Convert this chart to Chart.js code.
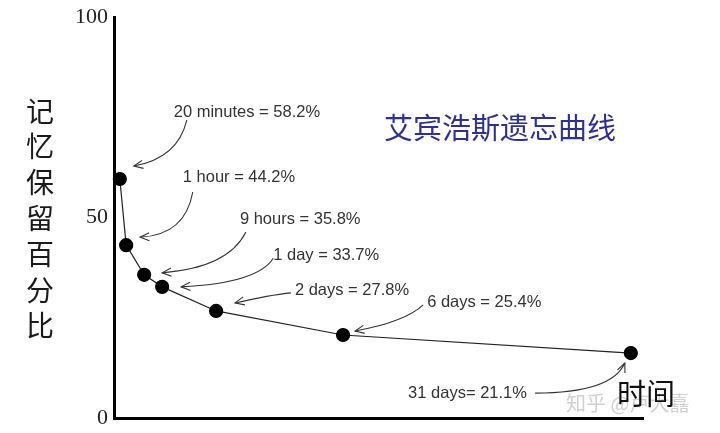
<!DOCTYPE html>
<html>
<head>
<meta charset="utf-8">
<script src="https://cdn.jsdelivr.net/npm/chart.js@4.4.1/dist/chart.umd.min.js"></script>
<style>
  html, body { margin: 0; padding: 0; background: #fff; }
  #wrap { width: 720px; height: 433px; }
</style>
</head>
<body>
<div id="wrap"><canvas id="curve"></canvas></div>
<script>
// ── Data ────────────────────────────────────────────────────
const intervals  = ['20 minutes', '1 hour', '9 hours', '1 day', '2 days', '6 days', '31 days'];
const noteLabels = ['20 minutes = 58.2%', '1 hour = 44.2%', '9 hours = 35.8%', '1 day = 33.7%',
                    '2 days = 27.8%', '6 days = 25.4%', '31 days= 21.1%'];
const timePos    = [1.1, 2.3, 5.7, 9.1, 19.3, 43.3, 97.7];   // horizontal position, 0..100
const retention  = [59.6, 43.1, 35.7, 32.7, 26.7, 20.7, 16.2];
const yTicks     = [0, 50, 100];

const chartTitle = '艾宾浩斯遗忘曲线';
const yTitle     = '记忆保留百分比';
const xTitle     = '时间';
const watermark  = '知乎 @卢大嚞';

// ── Note layout: label anchor in data units, arrow offsets in px ──
const noteAt   = [[11.3, 76.3], [13.0, 60.1], [23.8, 49.6], [30.1, 40.6], [34.2, 31.7], [59.2, 28.7], [55.6, 6.2]];
const tailOff  = [[13, 8], [10, 15], [6, 13], [0, 3], [-4, 2], [-4, 2], [127, 0]];
const headOff  = [[14, -13], [14, -8], [18, -2], [19, 0], [19, -8], [12, -4], [-6, 10]];
const ctrlOff  = [[44, -8], [45, -2], [66, -5], [77, -4], [35, -8], [50, -9], [-13, 30]];

// ── Helpers ─────────────────────────────────────────────────
function arrow(ctx, t, c, h) {
  ctx.beginPath();
  ctx.moveTo(t[0], t[1]);
  ctx.quadraticCurveTo(c[0], c[1], h[0], h[1]);
  ctx.stroke();
  const ang = Math.atan2(h[1] - c[1], h[0] - c[0]);
  const len = 10, spread = 0.42;
  ctx.beginPath();
  ctx.moveTo(h[0] - len * Math.cos(ang - spread), h[1] - len * Math.sin(ang - spread));
  ctx.lineTo(h[0], h[1]);
  ctx.lineTo(h[0] - len * Math.cos(ang + spread), h[1] - len * Math.sin(ang + spread));
  ctx.stroke();
}

const notesPlugin = {
  id: 'notes',
  afterDraw(chart) {
    const { ctx, chartArea: a, scales: { x, y } } = chart;
    ctx.save();

    // annotations with arrows
    ctx.font = '16.5px "Liberation Sans", Arial, sans-serif';
    ctx.textBaseline = 'middle';
    ctx.textAlign = 'left';
    ctx.fillStyle = '#333';
    ctx.strokeStyle = '#333';
    ctx.lineWidth = 1.1;
    noteLabels.forEach((txt, i) => {
      const lx = x.getPixelForValue(noteAt[i][0]);
      const ly = y.getPixelForValue(noteAt[i][1]);
      const px = x.getPixelForValue(timePos[i]);
      const py = y.getPixelForValue(retention[i]);
      ctx.fillText(txt, lx, ly);
      const head = [px + headOff[i][0], py + headOff[i][1]];
      const tail = [lx + tailOff[i][0], ly + tailOff[i][1]];
      const ctrl = [head[0] + ctrlOff[i][0], head[1] + ctrlOff[i][1]];
      arrow(ctx, tail, ctrl, head);
    });

    // title
    ctx.font = '29px "Noto Sans CJK SC", sans-serif';
    ctx.fillStyle = '#2e3192';
    ctx.textAlign = 'center';
    ctx.fillText(chartTitle, a.left + 386, 128);

    // vertical y title
    ctx.font = '28px "Noto Sans CJK SC", sans-serif';
    ctx.fillStyle = '#1a1a1a';
    [...yTitle].forEach((ch, i) => ctx.fillText(ch, 40, 111 + i * 35.8));

    // watermark
    ctx.font = '20px "Noto Sans CJK SC", sans-serif';
    ctx.fillStyle = 'rgba(170,170,170,0.55)';
    ctx.textAlign = 'left';
    ctx.fillText(watermark, 566, 403);

    // x title
    ctx.font = '29px "Noto Sans CJK SC", sans-serif';
    ctx.fillStyle = '#111';
    ctx.fillText(xTitle, 617, 394);

    ctx.restore();
  }
};

// ── Chart ───────────────────────────────────────────────────
new Chart(document.getElementById('curve'), {
  type: 'scatter',
  data: {
    datasets: [{
      label: 'retention',
      data: timePos.map((t, i) => ({ x: t, y: retention[i], name: intervals[i] })),
      showLine: true,
      borderColor: '#222',
      borderWidth: 1.2,
      pointRadius: 6.5,
      pointBackgroundColor: '#000',
      pointBorderColor: '#000',
      pointHoverRadius: 6.5,
      clip: false
    }]
  },
  options: {
    responsive: true,
    maintainAspectRatio: false,
    animation: false,
    layout: { padding: { left: 0, right: 77, top: 17, bottom: 15 } },
    plugins: { legend: { display: false }, tooltip: { enabled: false } },
    scales: {
      x: {
        type: 'linear', min: 0, max: 100,
        grid: { display: false, drawTicks: false },
        border: { display: true, width: 3, color: '#000' },
        ticks: { display: false },
        afterFit: s => { s.height = 0; }
      },
      y: {
        min: 0, max: 100,
        afterBuildTicks: s => { s.ticks = yTicks.map(v => ({ value: v })); },
        grid: { display: false, drawTicks: false },
        border: { display: true, width: 3, color: '#000' },
        ticks: {
          padding: 6,
          color: '#222',
          font: { family: '"Liberation Serif", "Times New Roman", serif', size: 22 }
        },
        afterFit: s => { s.width = 114; s.paddingTop = 0; s.paddingBottom = 0; }
      }
    }
  },
  plugins: [notesPlugin]
});
</script>
</body>
</html>
